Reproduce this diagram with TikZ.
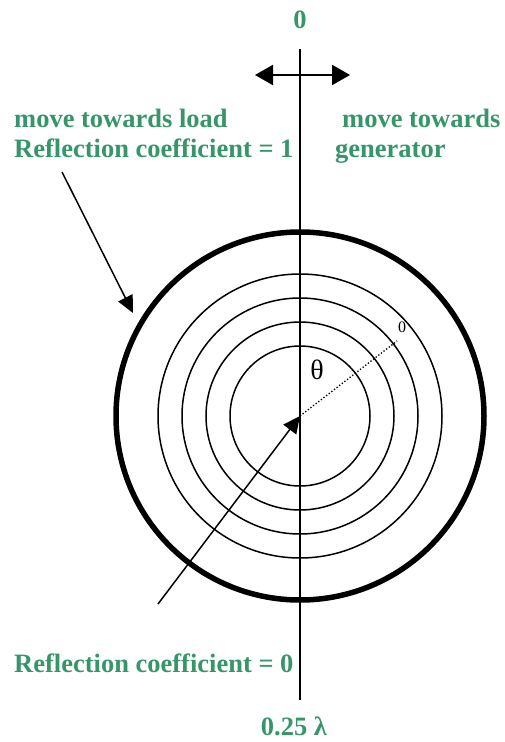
\documentclass[tikz,border=0pt]{standalone}
\usepackage{fontspec}
\setmainfont{Liberation Serif}
\usetikzlibrary{arrows.meta}
\definecolor{labelgreen}{RGB}{55,150,105}
\tikzset{
  lbl/.style={text=labelgreen, font=\bfseries\fontsize{26.5}{30}\selectfont, inner sep=0pt},
  ring/.style={line width=1.5pt},
  pointer/.style={line width=1.5pt, -{Triangle[length=17pt,width=16pt]}},
}

\begin{document}
\begin{tikzpicture}[x=1pt, y=-1pt]
  \useasboundingbox (0,0) rectangle (505,742);
  \coordinate (O) at (300,416);
  \coordinate (T) at (300,49);
  \coordinate (Bt) at (300,700);
  \coordinate (L) at (255,75);
  \coordinate (R) at (350,75);
  \coordinate (Q) at (397,341);
  \coordinate (A) at (62,172);
  \coordinate (Ae) at (133,313);
  \coordinate (C) at (158,604);

  % axis and circles
  \draw[line width=2pt] (T) -- (Bt);
  \draw[line width=5.5pt] (O) circle (184pt);
  \foreach \r in {70,94,118,142}
    \draw[ring] (O) circle (\r pt);
  \draw[dotted, line width=1.3pt] (O) -- (Q);

  % arrows
  \draw[line width=2pt, {Triangle[length=18pt,width=20pt]}-{Triangle[length=18pt,width=20pt]}] (L) -- (R);
  \draw[pointer] (A) -- (Ae);
  \draw[pointer] (C) -- (O);

  % labels
  \node[lbl, anchor=base] (top) at (300,28) {0};
  \node[lbl, anchor=base] (bot) at (294,735) {0.25 λ};
  \node[lbl, anchor=base west] (load1) at (14,127) {move towards load};
  \node[lbl, anchor=base west] (load2) at (14,157) {Reflection coefficient = 1};
  \node[lbl, anchor=base west] (gen1) at (342,127) {move towards};
  \node[lbl, anchor=base west] (gen2) at (335,157) {generator};
  \node[lbl, anchor=base west] (zero) at (14,672) {Reflection coefficient = 0};
  \node[inner sep=0pt, font=\fontsize{28}{30}\selectfont] (theta) at (317,370) {θ};
  \node[inner sep=0pt, font=\fontsize{16}{18}\selectfont] (small) at (402,327) {0};
\end{tikzpicture}
\end{document}
